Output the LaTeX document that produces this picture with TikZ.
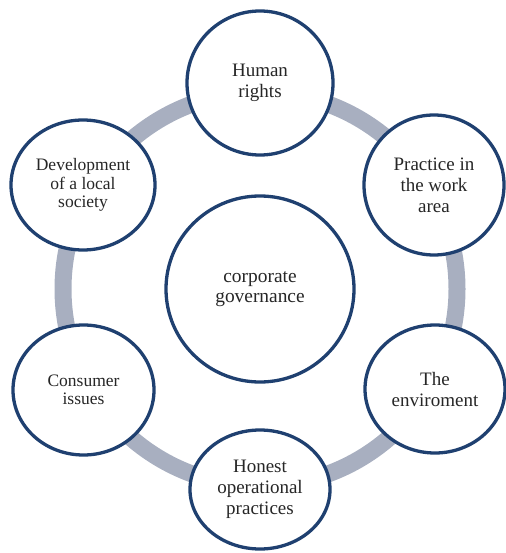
\documentclass[tikz,border=0pt]{standalone}
\usepackage{fontspec}
\setmainfont{Liberation Serif}
\usetikzlibrary{shapes.geometric}
\definecolor{ringblue}{RGB}{31,64,112}
\definecolor{ringgray}{RGB}{168,175,192}
\definecolor{txt}{RGB}{38,38,38}
\begin{document}
\begin{tikzpicture}[x=1pt,y=-1pt,
  topic/.style={ellipse, draw=ringblue, line width=3.3pt, fill=white, inner sep=0pt,
     align=center, text=txt, font=\fontsize{19}{21}\selectfont},
  small/.style={font=\fontsize{17.5}{18.5}\selectfont}]
\useasboundingbox (0,0) rectangle (505,553);
\draw[ringgray, line width=17pt] (260,289) circle[radius=197];
\node[topic, minimum width=188pt, minimum height=186pt, font=\fontsize{19.4}{20.5}\selectfont] (cg) at (260,289) {corporate\\governance};
\node[topic, minimum width=146pt, minimum height=144pt] (hr) at (260,83) {Human\\rights};
\node[topic, minimum width=140pt, minimum height=140pt] (pw) at (434,185) {Practice in\\the work\\area};
\node[topic, minimum width=140pt, minimum height=128pt] (env) at (435,389) {The\\enviroment};
\node[topic, minimum width=140pt, minimum height=119pt] (hon) at (260,489.5) {Honest\\operational\\practices};
\node[topic, small, minimum width=141pt, minimum height=130pt] (con) at (83.5,390) {Consumer\\issues};
\node[topic, small, minimum width=144pt, minimum height=130pt] (dev) at (83,185) {Development\\of a local\\society};
\end{tikzpicture}
\end{document}
